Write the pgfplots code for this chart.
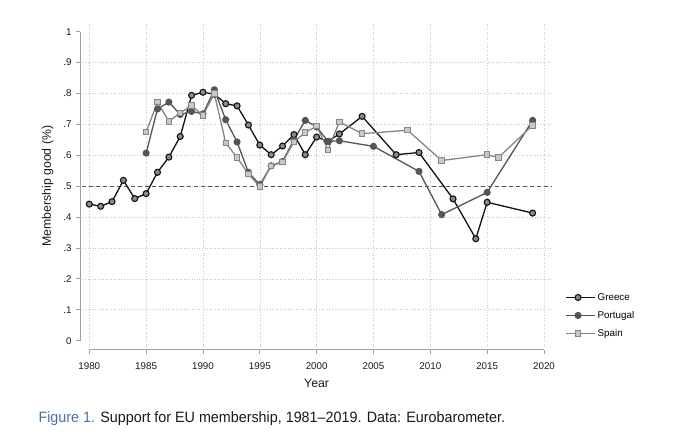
\documentclass[border=0pt]{standalone}
\usepackage{fontspec}
\setmainfont{Liberation Sans}
\newfontfamily\capfont[FakeStretch=0.955]{Liberation Sans}
\usepackage{pgfplots}
\pgfplotsset{compat=1.18}
\definecolor{grc}{HTML}{111111}
\definecolor{prt}{HTML}{555555}
\definecolor{spn}{HTML}{858585}
\definecolor{spnfill}{HTML}{C8C8C8}
\definecolor{axgray}{HTML}{A0A0A0}
\definecolor{gridc}{HTML}{C8C8C8}
\definecolor{capblue}{HTML}{4A6FA8}
\begin{document}
\begin{tikzpicture}[x=1pt,y=1pt]
\useasboundingbox (0,0) rectangle (680,444);
\begin{axis}[
  scale only axis,
  width=454.7pt, height=309pt,
  at={(89.3pt,103.3pt)}, anchor=south west,
  xmin=1980, xmax=2020, ymin=0, ymax=1,
  clip=false,
  axis x line*=bottom, axis y line*=left,
  axis x line shift=9.3pt, axis y line shift=9.3pt,
  x axis line style={-, draw=axgray, line width=1pt},
  y axis line style={-, draw=axgray, line width=1pt},
  tick style={draw=axgray, line width=0.8pt},
  tick align=outside, major tick length=4pt,
  xtick={1980,1985,1990,1995,2000,2005,2010,2015,2020},
  ytick={0,0.1,0.2,0.3,0.4,0.5,0.6,0.7,0.8,0.9,1},
  yticklabels={0,.1,.2,.3,.4,.5,.6,.7,.8,.9,1},
  /pgf/number format/1000 sep={},
  /pgf/number format/assume math mode=true,
  ticklabel style={font=\fontsize{9.8}{11}\selectfont, text=black!90},
  xticklabel style={yshift=-5pt},
  yticklabel style={xshift=-1pt},
  xlabel={Year}, ylabel={Membership good (\%)},
  label style={font=\fontsize{12.3}{14}\selectfont, text=black!90},
  xlabel style={yshift=-2.5pt},
  ylabel shift=3pt,
  legend style={at={(axis description cs:1.04,0.167)}, anchor=north west,
    draw=none, fill=none, font=\fontsize{9.8}{11}\selectfont, row sep=5.5pt},
  legend cell align=left,
  legend image code/.code={
    \path (-1pt,0pt) -- (28pt,0pt);
    \draw[#1, mark=none] (0pt,0pt) -- (22pt,0pt);
    \draw[#1, only marks] plot coordinates {(11pt,0pt)};
  },
]
\pgfplotsinvokeforeach{0.1,0.2,0.3,0.4,0.5,0.6,0.7,0.8,0.9}{
  \draw[gridc, dotted, line width=0.6pt] (axis cs:1979.4,#1) -- (axis cs:2020.7,#1);
}
\pgfplotsinvokeforeach{1980,1985,1990,1995,2000,2005,2010,2015,2020}{
  \draw[gridc, dotted, line width=0.6pt] (axis cs:#1,-0.02) -- (axis cs:#1,1.031);
}
\draw[black!65, dashed, dash pattern=on 4pt off 3pt, line width=1pt] (axis cs:1979.4,0.5) -- (axis cs:2020.7,0.5);

\addplot[grc, line width=1.3pt, mark=*, mark size=3pt, mark options={draw=grc, fill=black!45, line width=1.1pt}] coordinates {
(1980,0.442) (1981,0.435) (1982,0.450) (1983,0.519) (1984,0.460) (1985,0.476)
(1986,0.545) (1987,0.594) (1988,0.661) (1989,0.794) (1990,0.804) (1991,0.798)
(1992,0.767) (1993,0.760) (1994,0.698) (1995,0.633) (1996,0.602) (1997,0.630)
(1998,0.667) (1999,0.602) (2000,0.659) (2001,0.645) (2002,0.669) (2004,0.726)
(2007,0.602) (2009,0.609) (2012,0.459) (2014,0.330) (2015,0.448) (2019,0.413)
};
\addlegendentry{Greece}
\addplot[prt, line width=1.3pt, mark=*, mark size=2.9pt, mark options={draw=prt, fill=prt}] coordinates {
(1985,0.607) (1986,0.750) (1987,0.772) (1988,0.732) (1989,0.742) (1990,0.734)
(1991,0.812) (1992,0.715) (1993,0.643) (1994,0.545) (1995,0.505) (1996,0.566)
(1997,0.580) (1998,0.650) (1999,0.713) (2000,0.692) (2001,0.645) (2002,0.647)
(2005,0.629) (2009,0.548) (2011,0.408) (2015,0.480) (2019,0.713)
};
\addlegendentry{Portugal}
\addplot[spn, line width=1.3pt, mark=square*, mark size=2.7pt, mark options={draw=spn, fill=spnfill, line width=1pt}] coordinates {
(1985,0.675) (1986,0.772) (1987,0.710) (1988,0.737) (1989,0.761) (1990,0.729)
(1991,0.800) (1992,0.640) (1993,0.593) (1994,0.539) (1995,0.499) (1996,0.566)
(1997,0.578) (1998,0.643) (1999,0.674) (2000,0.694) (2001,0.618) (2002,0.708)
(2004,0.670) (2008,0.681) (2011,0.583) (2015,0.602) (2016,0.593) (2019,0.697)
};
\addlegendentry{Spain}
\end{axis}
\node[anchor=base west, inner sep=0pt] at (38.3,21.7)
  {\capfont\fontsize{15}{18}\selectfont\textcolor{capblue}{Figure 1.} \textcolor{black!90}{Support for EU membership, 1981–2019. Data: Eurobarometer.}};
\end{tikzpicture}
\end{document}
